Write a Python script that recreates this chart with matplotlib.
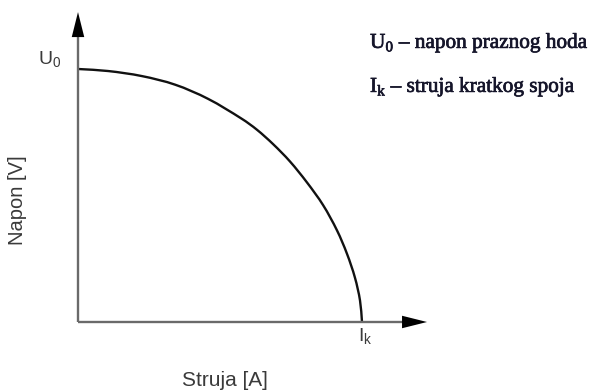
import math
import matplotlib
matplotlib.use('Agg')
import matplotlib.pyplot as plt
import matplotlib.patheffects as pe
from matplotlib.path import Path
from matplotlib.patches import PathPatch

# Normalised characteristic (current / Ik, voltage / U0)
current = [0.0, 0.106, 0.225, 0.342, 0.458, 0.577, 0.630, 0.687, 0.746,
           0.806, 0.863, 0.912, 0.947, 0.975, 0.993, 1.0]
voltage = [1.0, 0.992, 0.972, 0.938, 0.882, 0.803, 0.760, 0.703, 0.635,
           0.552, 0.462, 0.362, 0.270, 0.176, 0.085, 0.0]

x_label = "Struja [A]"
y_label = "Napon [V]"
legend_lines = [r"U$_\mathrm{0}$ – napon praznog hoda",
                r"I$_\mathrm{k}$ – struja kratkog spoja"]

plt.rcParams['mathtext.fontset'] = 'custom'
plt.rcParams['mathtext.rm'] = 'Liberation Serif'
plt.rcParams['mathtext.sf'] = 'Liberation Sans'

W, H = 590, 392
fig = plt.figure(figsize=(W / 100, H / 100), dpi=100)
fig.patch.set_facecolor('white')

lim = 1.3
ax = fig.add_axes([78 / W, 70 / H, 284 * lim / W, 253 * lim / H])
ax.set_xlim(0, lim)
ax.set_ylim(0, lim)
ax.axis('off')

axis_col = '#6a6a6a'
x_tip, y_tip = 1.229, 1.225
ax.plot([0, x_tip - 0.05], [0, 0], color=axis_col, lw=1.7, clip_on=False,
        solid_capstyle='butt')
ax.plot([0, 0], [0, y_tip - 0.05], color=axis_col, lw=1.7, clip_on=False,
        solid_capstyle='butt')
head = dict(arrowstyle='-|>,head_length=1.8,head_width=0.45', mutation_scale=10,
            fc='black', ec='black', lw=0, shrinkA=0, shrinkB=0)
ax.annotate('', xy=(x_tip, 0), xytext=(x_tip - 0.09, 0), arrowprops=head,
            annotation_clip=False)
ax.annotate('', xy=(0, y_tip), xytext=(0, y_tip - 0.1), arrowprops=head,
            annotation_clip=False)

# smooth curve through the read points (chord-length Hermite as cubic Bezier)
pts = list(zip(current, voltage))
n = len(pts)
d = [math.dist(pts[i], pts[i + 1]) for i in range(n - 1)]
tang = []
for i in range(n):
    if i == 0:
        t = ((pts[1][0] - pts[0][0]) / d[0], (pts[1][1] - pts[0][1]) / d[0])
    elif i == n - 1:
        t = ((pts[-1][0] - pts[-2][0]) / d[-1], (pts[-1][1] - pts[-2][1]) / d[-1])
    else:
        s = d[i - 1] + d[i]
        t = ((pts[i + 1][0] - pts[i - 1][0]) / s, (pts[i + 1][1] - pts[i - 1][1]) / s)
    tang.append(t)
verts = [pts[0]]
codes = [Path.MOVETO]
for i in range(n - 1):
    p1, p2 = pts[i], pts[i + 1]
    k = d[i] / 3
    c1 = (p1[0] + tang[i][0] * k, p1[1] + tang[i][1] * k)
    c2 = (p2[0] - tang[i + 1][0] * k, p2[1] - tang[i + 1][1] * k)
    verts += [c1, c2, p2]
    codes += [Path.CURVE4] * 3
ax.add_patch(PathPatch(Path(verts, codes), fill=False, ec='#111111', lw=1.7,
                       clip_on=False, capstyle='butt'))

lab_col = '#3a3a3a'
ax.text(-0.06, 1.035, r'$\mathsf{U}_\mathsf{0}$', ha='right', va='center',
        fontsize=14, color=lab_col, family='Liberation Sans')
ax.text(1.012, -0.02, r'$\mathsf{I}_\mathsf{k}$', ha='center', va='top',
        fontsize=14, color=lab_col, family='Liberation Sans')

fig.text(225 / W, 1 - 380 / H, x_label, ha='center', va='center',
         fontsize=15, color=lab_col, family='Liberation Sans')
fig.text(18 / W, 1 - 200 / H, y_label, ha='center', va='center', rotation=90,
         fontsize=14.5, color=lab_col, family='Liberation Sans')

leg_col = '#15152a'
thick = [pe.withStroke(linewidth=0.5, foreground=leg_col)]
fig.text(370 / W, 1 - 48 / H, legend_lines[0], ha='left', va='baseline',
         fontsize=15.3, color=leg_col, family='Liberation Serif',
         path_effects=thick)
fig.text(370 / W, 1 - 92 / H, legend_lines[1], ha='left', va='baseline',
         fontsize=15.3, color=leg_col, family='Liberation Serif',
         path_effects=thick)

fig.savefig('out.png', dpi=100, facecolor='white')
